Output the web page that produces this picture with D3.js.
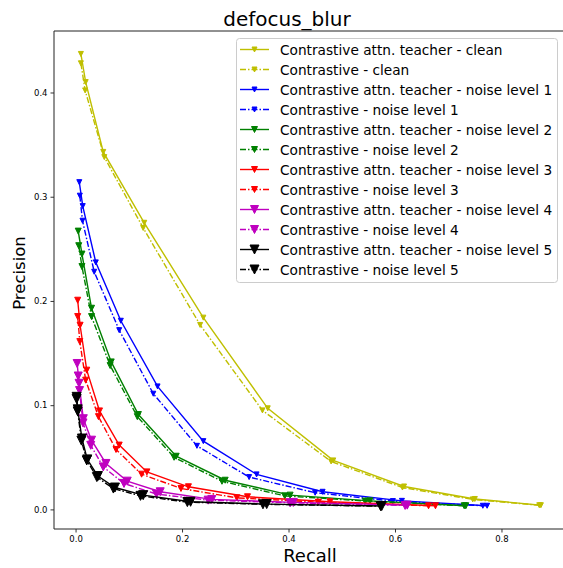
<!DOCTYPE html>
<html>
<head>
<meta charset="utf-8">
<script src="https://cdn.jsdelivr.net/npm/d3@7"></script>
<style>
  body { margin: 0; background: #fff; }
  svg { display: block; font-family: "DejaVu Sans", sans-serif; }
</style>
</head>
<body>
<div id="chart"></div>
<script>
// [recall, precision] pairs
const teacherClean = [[0.010,0.437],[0.019,0.410],[0.052,0.343],[0.129,0.275],[0.240,0.184],[0.361,0.097],[0.484,0.047],[0.617,0.022],[0.750,0.010],[0.874,0.004]]
const contrastClean = [[0.010,0.428],[0.018,0.402],[0.054,0.338],[0.127,0.270],[0.234,0.177],[0.351,0.095],[0.480,0.046],[0.614,0.021],[0.746,0.0096],[0.871,0.004]]
const teacherN1 = [[0.007,0.314],[0.0135,0.291],[0.038,0.237],[0.085,0.181],[0.154,0.118],[0.240,0.0655],[0.340,0.0336],[0.464,0.0169],[0.613,0.0082],[0.773,0.0035]]
const contrastN1 = [[0.008,0.301],[0.013,0.277],[0.035,0.228],[0.082,0.172],[0.146,0.111],[0.228,0.061],[0.326,0.031],[0.450,0.016],[0.596,0.008],[0.765,0.0035]]
const teacherN2 = [[0.005,0.267],[0.012,0.245],[0.030,0.193],[0.067,0.1415],[0.118,0.091],[0.189,0.051],[0.281,0.028],[0.403,0.0137],[0.553,0.0082],[0.733,0.0035]]
const contrastN2 = [[0.006,0.253],[0.012,0.233],[0.030,0.185],[0.065,0.138],[0.116,0.089],[0.185,0.050],[0.275,0.027],[0.393,0.013],[0.544,0.008],[0.730,0.0035]]
const teacherN3 = [[0.004,0.2007],[0.0085,0.1767],[0.021,0.1336],[0.045,0.0945],[0.082,0.0617],[0.134,0.036],[0.212,0.0217],[0.323,0.0121],[0.478,0.0073],[0.676,0.0035]]
const contrastN3 = [[0.004,0.185],[0.008,0.161],[0.019,0.124],[0.043,0.089],[0.076,0.0575],[0.124,0.0338],[0.198,0.0201],[0.303,0.0111],[0.456,0.007],[0.663,0.0035]]
const teacherN4 = [[0.003,0.140],[0.0066,0.121],[0.0146,0.087],[0.030,0.0664],[0.057,0.0441],[0.097,0.0271],[0.159,0.0169],[0.256,0.0096],[0.409,0.0067],[0.623,0.0041]]
const contrastN4 = [[0.005,0.128],[0.0075,0.114],[0.014,0.083],[0.0285,0.0615],[0.052,0.0408],[0.091,0.0249],[0.152,0.0147],[0.249,0.0089],[0.403,0.0063],[0.619,0.0038]]
const teacherN5 = [[0.002,0.108],[0.004,0.096],[0.012,0.068],[0.022,0.048],[0.042,0.032],[0.074,0.021],[0.127,0.0137],[0.216,0.0073],[0.359,0.0051],[0.575,0.0032]]
const contrastN5 = [[0.002,0.106],[0.004,0.094],[0.011,0.066],[0.021,0.047],[0.040,0.031],[0.071,0.020],[0.122,0.013],[0.210,0.0070],[0.352,0.0049],[0.573,0.0031]]

const levelNames = ["clean", "noise level 1", "noise level 2", "noise level 3", "noise level 4", "noise level 5"]
const xTicks = [0.0, 0.2, 0.4, 0.6, 0.8]
const yTicks = [0.0, 0.1, 0.2, 0.3, 0.4]

const colors = ["#bfbf00", "#0000ff", "#008000", "#ff0000", "#bf00bf", "#000000"]
const markerSizes = [6, 6, 7, 7, 9, 10]

const series = []
const teacherSets = [teacherClean, teacherN1, teacherN2, teacherN3, teacherN4, teacherN5]
const contrastSets = [contrastClean, contrastN1, contrastN2, contrastN3, contrastN4, contrastN5]
levelNames.forEach((lv, i) => {
	series.push({ name: "Contrastive attn. teacher - " + lv, data: teacherSets[i], color: colors[i], size: markerSizes[i], dashed: false })
	series.push({ name: "Contrastive - " + lv, data: contrastSets[i], color: colors[i], size: markerSizes[i], dashed: true })
})

const W = 563, H = 568
const mLeft = 54, mTop = 31, mBottom = 529, mRight = 564.3
const dash = "6,2,1.5,2"

const svg = d3.select("#chart").append("svg")
	.attr("width", W)
	.attr("height", H)

const x = d3.scaleLinear().domain([-0.0405, 0.918]).range([mLeft, mRight])
const y = d3.scaleLinear().domain([-0.0188, 0.459]).range([mBottom, mTop])

// title + axis names
svg.append("text")
	.attr("x", 287).attr("y", 26)
	.attr("text-anchor", "middle")
	.style("font-size", "20px")
	.text("defocus_blur")

svg.append("text")
	.attr("x", 310).attr("y", 562)
	.attr("text-anchor", "middle")
	.style("font-size", "18px")
	.text("Recall")

svg.append("text")
	.attr("transform", "translate(25,273) rotate(-90)")
	.attr("text-anchor", "middle")
	.style("font-size", "16.5px")
	.text("Precision")

// axes
const gx = svg.append("g")
	.attr("transform", `translate(0,${mBottom})`)
	.call(d3.axisBottom(x).tickValues(xTicks).tickFormat(d3.format(".1f")).tickSize(3.5).tickPadding(3))
const gy = svg.append("g")
	.attr("transform", `translate(${mLeft},0)`)
	.call(d3.axisLeft(y).tickValues(yTicks).tickFormat(d3.format(".1f")).tickSize(3.5).tickPadding(3))
;[gx, gy].forEach(g => {
	g.select(".domain").remove()
	g.selectAll(".tick line").attr("stroke", "#000").attr("stroke-width", 0.8)
	g.selectAll(".tick text")
		.style("font-size", "8.5px")
		.style("font-family", "DejaVu Sans, sans-serif")
		.attr("fill", "#000")
})

// spines
svg.append("path")
	.attr("d", `M${mRight},${mTop}H${mLeft}V${mBottom}H${mRight}`)
	.attr("fill", "none")
	.attr("stroke", "#222")
	.attr("stroke-width", 1)

const line = d3.line()
	.x(d => x(d[0]))
	.y(d => y(d[1]))

function tri(s) {
	const h = s / 2
	return `M${-h},${-h}L${h},${-h}L0,${h}Z`
}

const plot = svg.append("g")
series.forEach(s => {
	const g = plot.append("g")
	g.append("path")
		.attr("d", line(s.data))
		.attr("fill", "none")
		.attr("stroke", s.color)
		.attr("stroke-width", 1.4)
		.attr("stroke-dasharray", s.dashed ? dash : null)
	g.selectAll("path.mk")
		.data(s.data)
		.enter()
		.append("path")
		.attr("class", "mk")
		.attr("d", tri(s.size - 1))
		.attr("transform", d => `translate(${x(d[0])},${y(d[1])})`)
		.attr("fill", s.color)
		.attr("stroke", s.color)
		.attr("stroke-width", 1)
})

// legend
const lg = svg.append("g")
lg.append("rect")
	.attr("x", 236.5).attr("y", 38.5)
	.attr("width", 321).attr("height", 244)
	.attr("rx", 3)
	.attr("fill", "#fff")
	.attr("fill-opacity", 0.8)
	.attr("stroke", "#ccc")
	.attr("stroke-width", 1)

const rows = lg.selectAll("g.row")
	.data(series)
	.enter()
	.append("g")
	.attr("class", "row")
	.attr("transform", (d, i) => `translate(0,${49.5 + i * 20})`)
rows.append("line")
	.attr("x1", 240).attr("x2", 269)
	.attr("stroke", d => d.color)
	.attr("stroke-width", 1.4)
	.attr("stroke-dasharray", d => d.dashed ? dash : null)
rows.append("path")
	.attr("d", d => tri(d.size - 1))
	.attr("transform", "translate(254.5,0)")
	.attr("fill", d => d.color)
	.attr("stroke", d => d.color)
rows.append("text")
	.attr("x", 280).attr("y", 5)
	.style("font-size", "13.7px")
	.text(d => d.name)
</script>
</body>
</html>
